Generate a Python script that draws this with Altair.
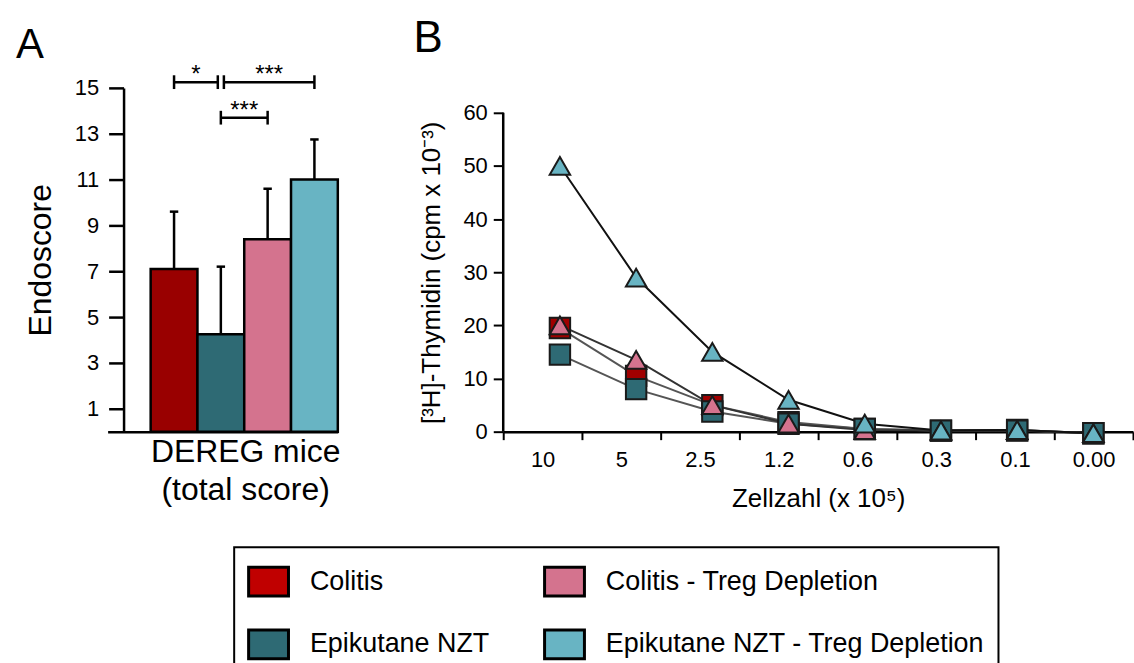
import altair as alt
import pandas as pd

FONT = "Liberation Sans"

# ---------------- Panel A data ----------------
groups = ["Colitis", "Epikutane NZT", "Colitis - Treg Depletion", "Epikutane NZT - Treg Depletion"]
bar_colors = ["#990000", "#2e6a74", "#d4738e", "#68b4c3"]
legend_colors = ["#c00000", "#2e6a74", "#d4738e", "#68b4c3"]
endoscore_mean = [7.1, 4.25, 8.4, 11.0]
endoscore_sd = [2.5, 2.95, 2.2, 1.75]

bracket_from = [0, 1, 1]
bracket_to = [1, 3, 2]
bracket_level = [15.25, 15.25, 13.7]
bracket_text = ["*", "***", "***"]

# ---------------- Panel B data ----------------
cell_labels = ["10", "5", "2.5", "1.2", "0.6", "0.3", "0.1", "0.00"]
colitis_cpm = [19.5, 10.5, 5.0, 1.8, 0.5, 0.2, 0.3, -0.3]
epikutan_cpm = [14.5, 8.0, 3.8, 1.5, 0.5, 0.2, 0.2, -0.3]
colitis_treg_cpm = [20.0, 13.5, 5.0, 1.5, 0.3, 0.2, 0.3, -0.3]
epikutan_treg_cpm = [50.0, 29.0, 15.0, 6.0, 1.5, 0.2, 0.3, -0.3]
marker_colors = ["#a00000", "#2e6a74", "#d4738e", "#68b4c3"]
line_colors = ["#555555", "#555555", "#333333", "#111111"]
marker_shapes = ["square", "square", "triangle-up", "triangle-up"]

# ---------------- tables ----------------
bars = pd.DataFrame({"group": groups, "mean": endoscore_mean, "sd": endoscore_sd})
bars["i"] = range(len(groups))
bars["x0"] = bars["i"]
bars["x1"] = bars["i"] + 1
bars["xc"] = bars["i"] + 0.5
bars["top"] = bars["mean"] + bars["sd"]
bars["cl"] = bars["xc"] - 0.09
bars["cr"] = bars["xc"] + 0.09
bars["zero"] = 0.0
bars["one"] = 1.0

br = pd.DataFrame({"f": bracket_from, "t": bracket_to, "level": bracket_level, "text": bracket_text})
br["x1"] = br["f"] + 0.5
br["x2"] = br["t"] + 0.5
# separate brackets that meet at the same bar on the same level
for a in range(len(br)):
    for b in range(len(br)):
        if a != b and br.loc[a, "level"] == br.loc[b, "level"] and br.loc[a, "t"] == br.loc[b, "f"]:
            br.loc[a, "x2"] -= 0.065
            br.loc[b, "x1"] += 0.065
br["xm"] = (br["x1"] + br["x2"]) / 2
caps = pd.concat([
    pd.DataFrame({"x": br["x1"], "level": br["level"]}),
    pd.DataFrame({"x": br["x2"], "level": br["level"]}),
])
caps["lo"] = caps["level"] - 0.3
caps["hi"] = caps["level"] + 0.3

series_values = [colitis_cpm, epikutan_cpm, colitis_treg_cpm, epikutan_treg_cpm]
rows = []
for g, vals in zip(groups, series_values):
    for k, (lab, v) in enumerate(zip(cell_labels, vals)):
        rows.append({"series": g, "idx": k, "label": lab, "value": v})
lines_df = pd.DataFrame(rows)
axis_df = pd.DataFrame({"label": cell_labels})

# ---------------- Panel A ----------------
xA_scale = alt.Scale(domain=[-0.92, 4.0], nice=False, zero=False)
yA_scale = alt.Scale(domain=[0, 15], nice=False, zero=False)
xA_axis = alt.Axis(title=["DEREG mice", "(total score)"], ticks=False, labels=False, grid=False,
                   domainWidth=2.5, titleFontSize=32, titleFontWeight="normal", titleX=138,
                   titleLineHeight=38, titlePadding=5)
yA_axis = alt.Axis(title="Endoscore", values=[1, 3, 5, 7, 9, 11, 13, 15], offset=-16, tickSize=15,
                   tickWidth=2.5, domainWidth=2.5, labelFontSize=22, labelPadding=10, grid=False,
                   titleFontSize=32, titleFontWeight="normal", titlePadding=17)


def xa(field):
    return alt.X(field, scale=xA_scale, axis=xA_axis)


def ya(field):
    return alt.Y(field, scale=yA_scale, axis=yA_axis)


legend_carrier = alt.Chart(bars).mark_square(size=20, stroke="black", strokeWidth=3).encode(
    x=xa("xc:Q"),
    y=ya("one:Q"),
    color=alt.Color("group:N", scale=alt.Scale(domain=groups, range=legend_colors),
                    legend=alt.Legend(orient="none", legendX=127, legendY=461, columns=2, title=None,
                                      symbolType="M-1,-0.72L1,-0.72L1,0.72L-1,0.72Z", symbolSize=1600,
                                      symbolStrokeColor="black", symbolStrokeWidth=3, symbolOpacity=1,
                                      labelFontSize=27, labelFont=FONT, labelColor="black", labelOffset=20,
                                      labelLimit=1000, columnPadding=48, rowPadding=21, padding=13,
                                      strokeColor="black")),
)
bar_layer = alt.Chart(bars).mark_rect(stroke="black", strokeWidth=2.5).encode(
    x=xa("x0:Q"),
    x2="x1:Q",
    y=ya("mean:Q"),
    y2="zero:Q",
    fill=alt.Fill("group:N", scale=alt.Scale(domain=groups, range=bar_colors), legend=None),
)
err_layer = alt.Chart(bars).mark_rule(color="black", strokeWidth=2.5).encode(
    x=xa("xc:Q"),
    y=ya("mean:Q"),
    y2="top:Q",
)
errcap_layer = alt.Chart(bars).mark_rule(color="black", strokeWidth=2.5).encode(
    x=xa("cl:Q"),
    x2="cr:Q",
    y=ya("top:Q"),
)
bracket_layer = alt.Chart(br).mark_rule(color="black", strokeWidth=2.5).encode(
    x=xa("x1:Q"),
    x2="x2:Q",
    y=ya("level:Q"),
)
bracketcap_layer = alt.Chart(caps).mark_rule(color="black", strokeWidth=2.5).encode(
    x=xa("x:Q"),
    y=ya("lo:Q"),
    y2="hi:Q",
)
star_layer = alt.Chart(br).mark_text(fontSize=24, baseline="alphabetic", color="black", font=FONT).encode(
    x=xa("xm:Q"),
    y=ya("level:Q"),
    text="text:N",
)

panel_a = alt.layer(
    legend_carrier, bar_layer, err_layer, errcap_layer, bracket_layer, bracketcap_layer, star_layer
).properties(
    width=231, height=345,
    title=alt.TitleParams("A", anchor="start", frame="group", fontSize=42, fontWeight="normal",
                          dx=-92, offset=-4, color="black", font=FONT),
)

# ---------------- Panel B ----------------
yB_scale = alt.Scale(domain=[0, 64.6875], nice=False, zero=False)
xB_scale = alt.Scale(domain=[-0.744, 7.52], nice=False, zero=False)
yB_axis = alt.Axis(title="[³H]-Thymidin (cpm x 10⁻³)", values=[0, 10, 20, 30, 40, 50, 60],
                   domain=False, tickSize=10, tickWidth=2, labelFontSize=22, labelPadding=6,
                   grid=False, titleFontSize=26, titleFontWeight="normal", titlePadding=18,
                   titleY=185)

axis_carrier = alt.Chart(axis_df).mark_point(opacity=0).encode(
    x=alt.X("label:N", sort=cell_labels,
            scale=alt.Scale(type="band", paddingInner=0, paddingOuter=0),
            axis=alt.Axis(title="Zellzahl (x 10⁵)", tickBand="extent", tickSize=8, tickWidth=2,
                          labelAngle=0, labelFontSize=22, labelPadding=10, domainWidth=2.5,
                          titleFontSize=26, titleFontWeight="normal", titlePadding=15, grid=False)),
)
y_axis_line = alt.Chart(pd.DataFrame({"v": [0]})).mark_rule(color="black", strokeWidth=2.5).encode(
    x=alt.value(0),
    y=alt.Y(datum=0, scale=yB_scale, axis=yB_axis),
    y2=alt.Y2(datum=60),
)
line_layer = alt.Chart(lines_df).mark_line(strokeWidth=2).encode(
    x=alt.X("idx:Q", scale=xB_scale, axis=None),
    y=alt.Y("value:Q", scale=yB_scale, axis=yB_axis),
    stroke=alt.Stroke("series:N", scale=alt.Scale(domain=groups, range=line_colors), legend=None),
)
point_layer = alt.Chart(lines_df).mark_point(filled=True, size=420, stroke="#1a1a1a", strokeWidth=2,
                                              opacity=1).encode(
    x=alt.X("idx:Q", scale=xB_scale, axis=None),
    y=alt.Y("value:Q", scale=yB_scale, axis=yB_axis),
    fill=alt.Fill("series:N", scale=alt.Scale(domain=groups, range=marker_colors), legend=None),
    shape=alt.Shape("series:N", scale=alt.Scale(domain=groups, range=marker_shapes), legend=None),
    size=alt.Size("series:N", scale=alt.Scale(domain=groups, range=[420, 420, 520, 520]), legend=None),
)

panel_b = alt.layer(axis_carrier, y_axis_line, line_layer, point_layer).resolve_scale(
    x="independent"
).properties(
    width=632, height=345,
    title=alt.TitleParams("B", anchor="start", frame="group", fontSize=44, fontWeight="normal",
                          dx=-90, offset=27, color="black", font=FONT),
)

chart = alt.hconcat(panel_a, panel_b, spacing=166, bounds="flush").resolve_scale(
    x="independent", y="independent", color="independent", fill="independent",
    stroke="independent", shape="independent", size="independent",
).properties(
    padding={"left": 16, "top": 16, "right": 0, "bottom": 0},
).configure(
    font=FONT,
).configure_view(
    stroke=None,
).configure_axis(
    labelColor="black", titleColor="black", domainColor="black", tickColor="black",
    labelFont=FONT, titleFont=FONT,
).configure_legend(
    strokeWidth=2,
)

chart.save("out.html", embed_options={"renderer": "svg", "actions": False})
